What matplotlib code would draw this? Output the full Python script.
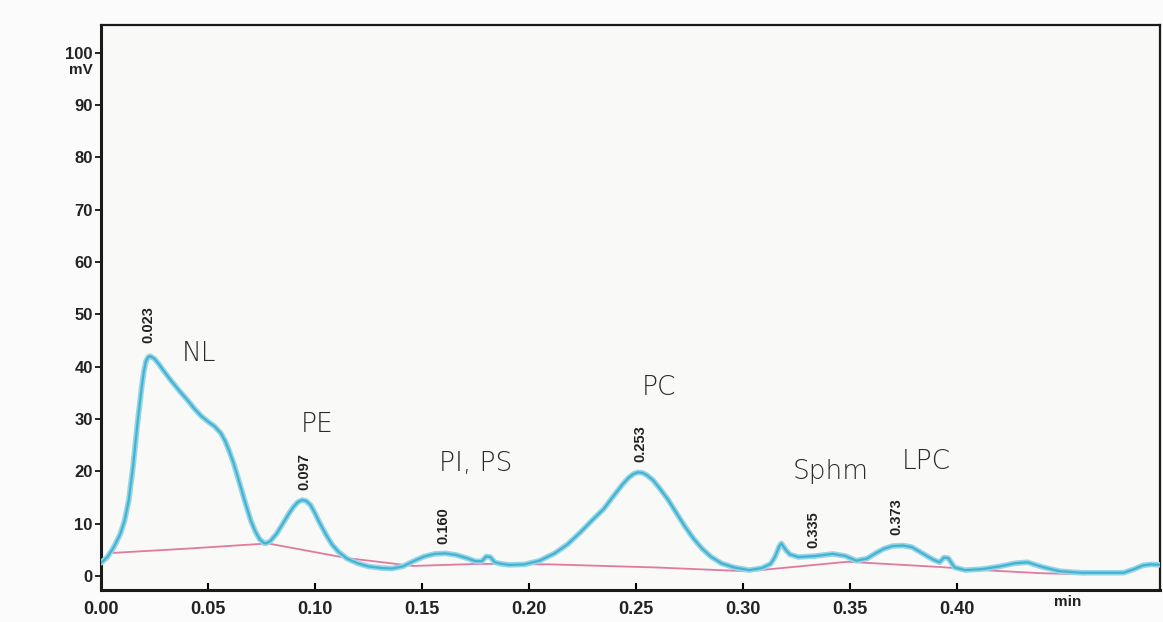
import matplotlib.pyplot as plt

# blue chromatogram trace (time in min, signal in mV)
trace_t = [0.000, 0.003, 0.006, 0.009, 0.011, 0.013, 0.015, 0.017, 0.019, 0.020,
           0.021, 0.022, 0.023, 0.025, 0.027, 0.030, 0.033, 0.037, 0.040, 0.044,
           0.047, 0.050, 0.053, 0.056, 0.058, 0.060, 0.062, 0.064, 0.066, 0.068,
           0.070, 0.072, 0.074, 0.076, 0.077, 0.079, 0.082, 0.085, 0.088, 0.090,
           0.092, 0.094, 0.096, 0.098, 0.100, 0.102, 0.105, 0.108, 0.111, 0.115,
           0.120, 0.125, 0.131, 0.136, 0.141, 0.146, 0.151, 0.156, 0.161, 0.166,
           0.171, 0.175, 0.178, 0.180, 0.182, 0.184, 0.187, 0.191, 0.198, 0.205,
           0.212, 0.218, 0.224, 0.230, 0.235, 0.240, 0.244, 0.247, 0.249, 0.251,
           0.253, 0.255, 0.258, 0.261, 0.265, 0.269, 0.273, 0.277, 0.281, 0.285,
           0.290, 0.296, 0.303, 0.309, 0.313, 0.315, 0.317, 0.318, 0.320, 0.322,
           0.326, 0.334, 0.342, 0.348, 0.353, 0.358, 0.362, 0.366, 0.370, 0.375,
           0.379, 0.384, 0.389, 0.392, 0.394, 0.396, 0.399, 0.404, 0.412, 0.420,
           0.427, 0.433, 0.440, 0.448, 0.458, 0.468, 0.478, 0.483, 0.487, 0.491,
           0.495]
trace_mv = [2.5, 3.6, 5.5, 8.0, 10.5, 14.5, 21.0, 29.0, 36.0, 39.0,
            41.0, 41.8, 42.0, 41.5, 40.5, 38.8, 37.2, 35.2, 33.8, 31.8,
            30.5, 29.5, 28.6, 27.3, 25.8, 23.8, 21.5, 18.8, 16.0, 13.2,
            10.6, 8.6, 7.1, 6.3, 6.2, 6.6, 8.0, 10.0, 12.0, 13.2,
            14.1, 14.5, 14.3, 13.5, 12.0, 10.3, 8.0, 6.0, 4.6, 3.3,
            2.4, 1.8, 1.5, 1.4, 1.8, 2.8, 3.7, 4.2, 4.3, 4.0,
            3.4, 2.8, 2.8, 3.7, 3.6, 2.6, 2.3, 2.1, 2.2, 2.9,
            4.3, 6.0, 8.3, 10.8, 12.8, 15.5, 17.6, 18.9, 19.5, 19.8,
            19.7, 19.3, 18.3, 16.8, 14.6, 12.0, 9.4, 7.1, 5.2, 3.7,
            2.4, 1.6, 1.1, 1.5, 2.3, 3.6, 5.6, 6.2, 5.0, 4.1,
            3.6, 3.8, 4.2, 3.8, 2.9, 3.3, 4.3, 5.2, 5.7, 5.8,
            5.5, 4.3, 3.1, 2.6, 3.5, 3.4, 1.6, 1.1, 1.3, 1.8,
            2.4, 2.6, 1.7, 0.9, 0.6, 0.6, 0.6, 1.3, 2.0, 2.2,
            2.1]

# pink integration baseline
base_t = [0.006, 0.040, 0.078, 0.115, 0.146, 0.177, 0.210, 0.260, 0.295, 0.303,
          0.349, 0.392, 0.412, 0.440, 0.460]
base_mv = [4.4, 5.2, 6.2, 3.4, 1.9, 2.3, 2.2, 1.6, 1.0, 0.9,
           2.7, 1.7, 1.1, 0.5, 0.3]

# retention time labels
rt_labels = ['0.023', '0.097', '0.160', '0.253', '0.335', '0.373']
rt_x = [0.022, 0.095, 0.160, 0.252, 0.333, 0.372]
rt_y = [44.5, 16.5, 6.0, 21.8, 5.4, 7.8]

# handwritten peak names
peak_names = ['NL', 'PE', 'PI, PS', 'PC', 'Sphm', 'LPC']
peak_x = [0.046, 0.101, 0.175, 0.261, 0.341, 0.386]
peak_y = [42.5, 29.0, 21.5, 36.0, 20.0, 21.8]

x_ticks = [0.00, 0.05, 0.10, 0.15, 0.20, 0.25, 0.30, 0.35, 0.40]
y_ticks = [0, 10, 20, 30, 40, 50, 60, 70, 80, 90, 100]

fig = plt.figure(figsize=(11.63, 6.22), dpi=100, facecolor='#fbfbfb')
ax = fig.add_axes([101 / 1163, 32 / 622, 1059 / 1163, 565 / 622])
ax.set_facecolor('#f9f9f8')

ax.plot(trace_t, trace_mv, color='#94d5e7', lw=4.0, solid_capstyle='round',
        solid_joinstyle='round', zorder=3)
ax.plot(trace_t, trace_mv, color='#45b2d0', lw=1.6, solid_joinstyle='round', zorder=4)
ax.plot(base_t, base_mv, color='#e07a9e', lw=1.3, zorder=2)

for lab, x, y in zip(rt_labels, rt_x, rt_y):
    ax.text(x, y, lab, rotation=90, ha='center', va='bottom', fontsize=10.5,
            fontweight='bold', family='Liberation Sans', color='#222222')

for name, x, y in zip(peak_names, peak_x, peak_y):
    ax.text(x, y, name, ha='center', va='center', fontsize=19,
            family='DejaVu Sans', fontweight='light', color='#2a2a2a')

ax.set_xlim(0, 0.495)
ax.set_ylim(-2.7, 105.3)
ax.set_xticks(x_ticks)
ax.set_xticklabels(['%.2f' % v for v in x_ticks])
ax.set_yticks(y_ticks)
ax.tick_params(axis='x', direction='in', length=5, width=1.5, pad=8)
ax.tick_params(axis='y', direction='out', length=4, width=1.2, pad=2)
for lbl in ax.get_xticklabels():
    lbl.set_fontweight('bold')
    lbl.set_fontsize(13)
    lbl.set_family('Liberation Sans')
    lbl.set_color('#222222')
for lbl in ax.get_yticklabels():
    lbl.set_fontweight('bold')
    lbl.set_fontsize(12)
    lbl.set_family('Liberation Sans')
    lbl.set_color('#222222')

ax.text(-0.004, 98.0, 'mV', ha='right', va='top', fontsize=11,
        fontweight='bold', family='Liberation Sans', color='#222222')
ax.text(0.452, -3.6, 'min', ha='center', va='top', fontsize=11,
        fontweight='bold', family='Liberation Sans', color='#222222')

for side in ['left', 'bottom']:
    ax.spines[side].set_linewidth(2.2)
for side in ['top', 'right']:
    ax.spines[side].set_linewidth(1.6)
for sp in ax.spines.values():
    sp.set_color('#1a1a1a')

fig.savefig('out.png', dpi=100, facecolor=fig.get_facecolor())
